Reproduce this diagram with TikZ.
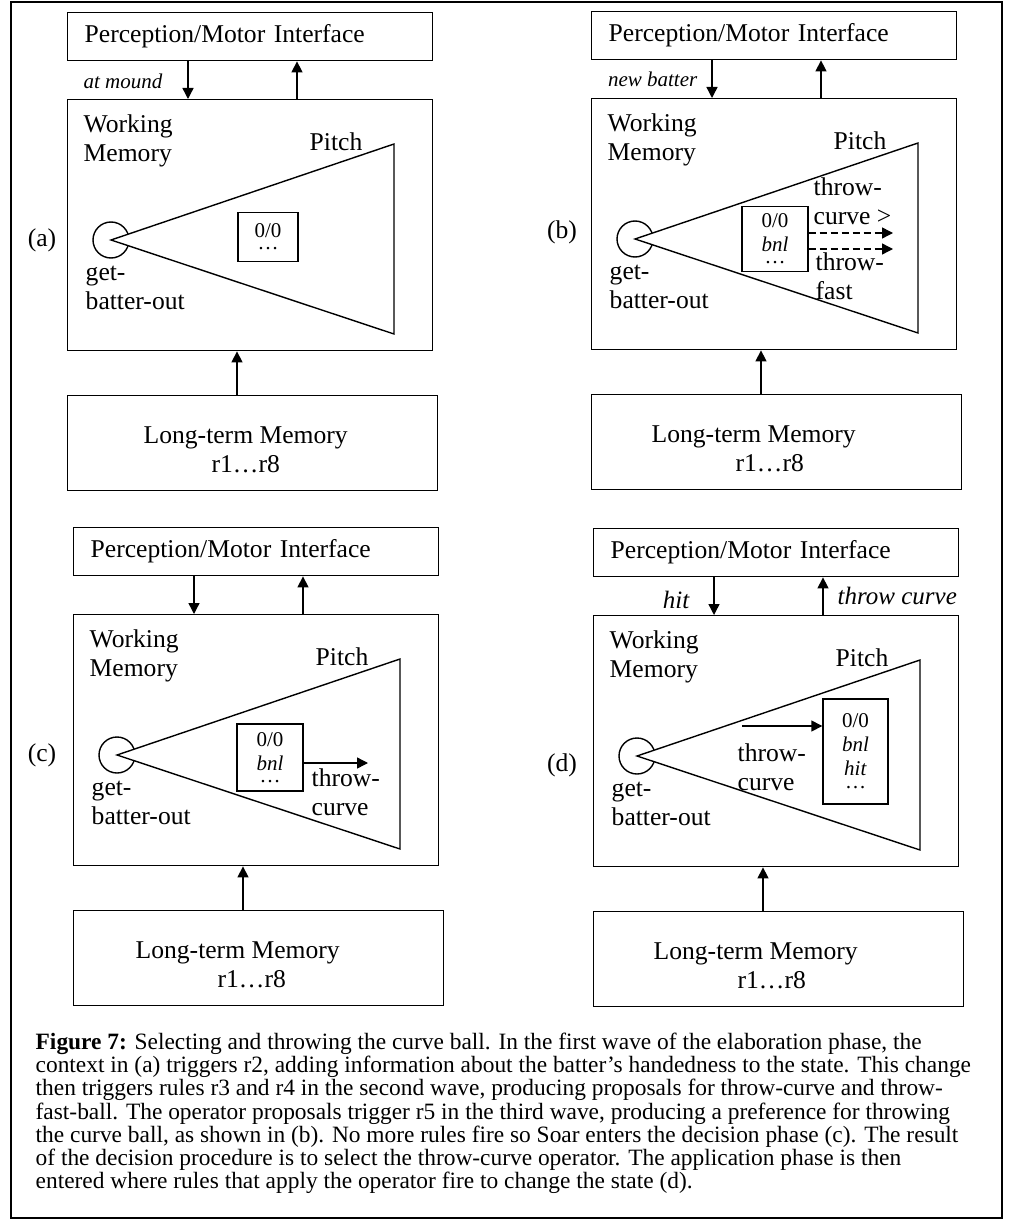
\documentclass[tikz,border=0pt]{standalone}
\usepackage{fontspec}
\setmainfont{Liberation Serif}
\usetikzlibrary{arrows.meta}
\begin{document}
\begin{tikzpicture}[x=1pt,y=-1pt,>={Triangle[length=11pt,width=11pt]},line width=1.4pt,
    big/.style={font=\fontsize{25.6}{29}\selectfont,inner sep=0pt},
    small/.style={font=\fontsize{21}{24}\selectfont\itshape,inner sep=0pt},
    io/.style={font=\fontsize{25}{29}\selectfont\itshape,inner sep=0pt},
    box/.style={draw,rectangle,anchor=north west,inner sep=0pt},
    state/.style={draw,rectangle,inner sep=0pt,align=center,font=\fontsize{21}{24}\selectfont},
    proposal/.style={->,dash pattern=on 7pt off 4pt}]
    \useasboundingbox (0,0) rectangle (1016,1222);
    \draw[line width=1.2pt] (11,2) rectangle (1002,1218);
    % common parts of the four panels
    \foreach \p/\ox/\oy/\lx/\ly/\ls in {a/67/12/42/240/0,b/591/11/562/232/32,c/73/527/42/755/28,d/593/528/562/765/32}{
      \begin{scope}[shift={(\ox,\oy)}]
        \node[box,big,minimum width=365pt,minimum height=48pt,text width=331pt,inner xsep=17pt,align=left] (\p-pmi) at (0,0) {Perception/Motor Interface};
        \node[box,minimum width=365pt,minimum height=251pt] (\p-wm) at (0,87) {};
        \node[box,minimum width=370pt,minimum height=95pt] (\p-ltm) at (0,383) {};
        \node[big,align=center] (\p-ltmtxt) at ([shift={(-7,7)}]\p-ltm.center) {Long-term Memory\hspace*{\ls pt}\\r1…r8};
        \draw[->] ([xshift=121pt]\p-pmi.south west) -- ([xshift=121pt]\p-wm.north west);
        \draw[->] ([xshift=230pt]\p-wm.north west) -- ([xshift=230pt]\p-pmi.south west);
        \draw[->] ([xshift=170pt]\p-ltm.north west) -- ([xshift=170pt]\p-wm.south west);
        \node[draw,circle,minimum size=36pt,inner sep=0pt] (\p-op) at (44,228) {};
        \filldraw[fill=white,line join=miter] (\p-op.center) -- (327,132) -- (327,322) -- cycle;
        \node[big,anchor=west,align=left] (\p-wmlbl) at (16,129) {Working\\Memory};
        \node[big] (\p-pitch) at (269,130) {Pitch};
        \node[big,anchor=west,align=left] (\p-oplbl) at (18,276) {get-\\batter-out};
      \end{scope}
      \node[big] (\p-tag) at (\lx,\ly) {(\p)};
    }
    % (a)
    \begin{scope}[shift={(67,12)}]
      \node[state,minimum width=60pt,minimum height=49pt] (a-state) at (201,225) {0/0\\[-12pt]…};
      \node[small,anchor=east] (a-in) at (96,69) {at mound};
    \end{scope}
    % (b)
    \begin{scope}[shift={(591,11)}]
      \node[state,minimum width=66pt,minimum height=65pt] (b-state) at (184,228) {0/0\\\textit{bnl}\\[-12pt]…};
      \node[small,anchor=east] (b-in) at (107,68) {new batter};
      \coordinate (b-curve) at (302,222);
      \coordinate (b-fast) at (302,238);
      \draw[proposal] (b-state.east |- b-curve) -- (b-curve);
      \draw[proposal] (b-state.east |- b-fast) -- (b-fast);
      \node[big,anchor=west,align=left] (b-curvelbl) at (222,190) {throw-\\curve >};
      \node[big,anchor=west,align=left] (b-fastlbl) at (224,265) {throw-\\fast};
    \end{scope}
    % (c)
    \begin{scope}[shift={(73,527)}]
      \node[state,minimum width=66pt,minimum height=67pt] (c-state) at (197,230.5) {0/0\\\textit{bnl}\\[-12pt]…};
      \coordinate (c-out) at (295,236);
      \draw[->] (c-state.east |- c-out) -- (c-out);
      \node[big,anchor=west,align=left] (c-oplbl) at (238,265.5) {throw-\\curve};
    \end{scope}
    % (d)
    \begin{scope}[shift={(593,528)}]
      \node[state,minimum width=65pt,minimum height=105pt] (d-state) at (262.5,223.5) {0/0\\\textit{bnl}\\\textit{hit}\\[-11pt]…};
      \coordinate (d-op) at (149,198);
      \draw[->] (d-op) -- (d-op -| d-state.west);
      \node[big,anchor=west,align=left] (d-oplbl) at (144,239.5) {throw-\\curve};
      \node[io,anchor=east] (d-in) at (97,72) {hit};
      \node[io,anchor=west] (d-out) at (244,68) {throw curve};
    \end{scope}
    \node[anchor=north west,align=left,inner sep=0pt,font=\fontsize{23.4}{23.3}\selectfont] (caption) at (35,1032)
      {\textbf{Figure 7:} Selecting and throwing the curve ball. In the first wave of the elaboration phase, the\\
       context in (a) triggers r2, adding information about the batter’s handedness to the state. This change\\
       then triggers rules r3 and r4 in the second wave, producing proposals for throw-curve and throw-\\
       fast-ball. The operator proposals trigger r5 in the third wave, producing a preference for throwing\\
       the curve ball, as shown in (b). No more rules fire so Soar enters the decision phase (c). The result\\
       of the decision procedure is to select the throw-curve operator. The application phase is then\\
       entered where rules that apply the operator fire to change the state (d).};
\end{tikzpicture}
\end{document}
